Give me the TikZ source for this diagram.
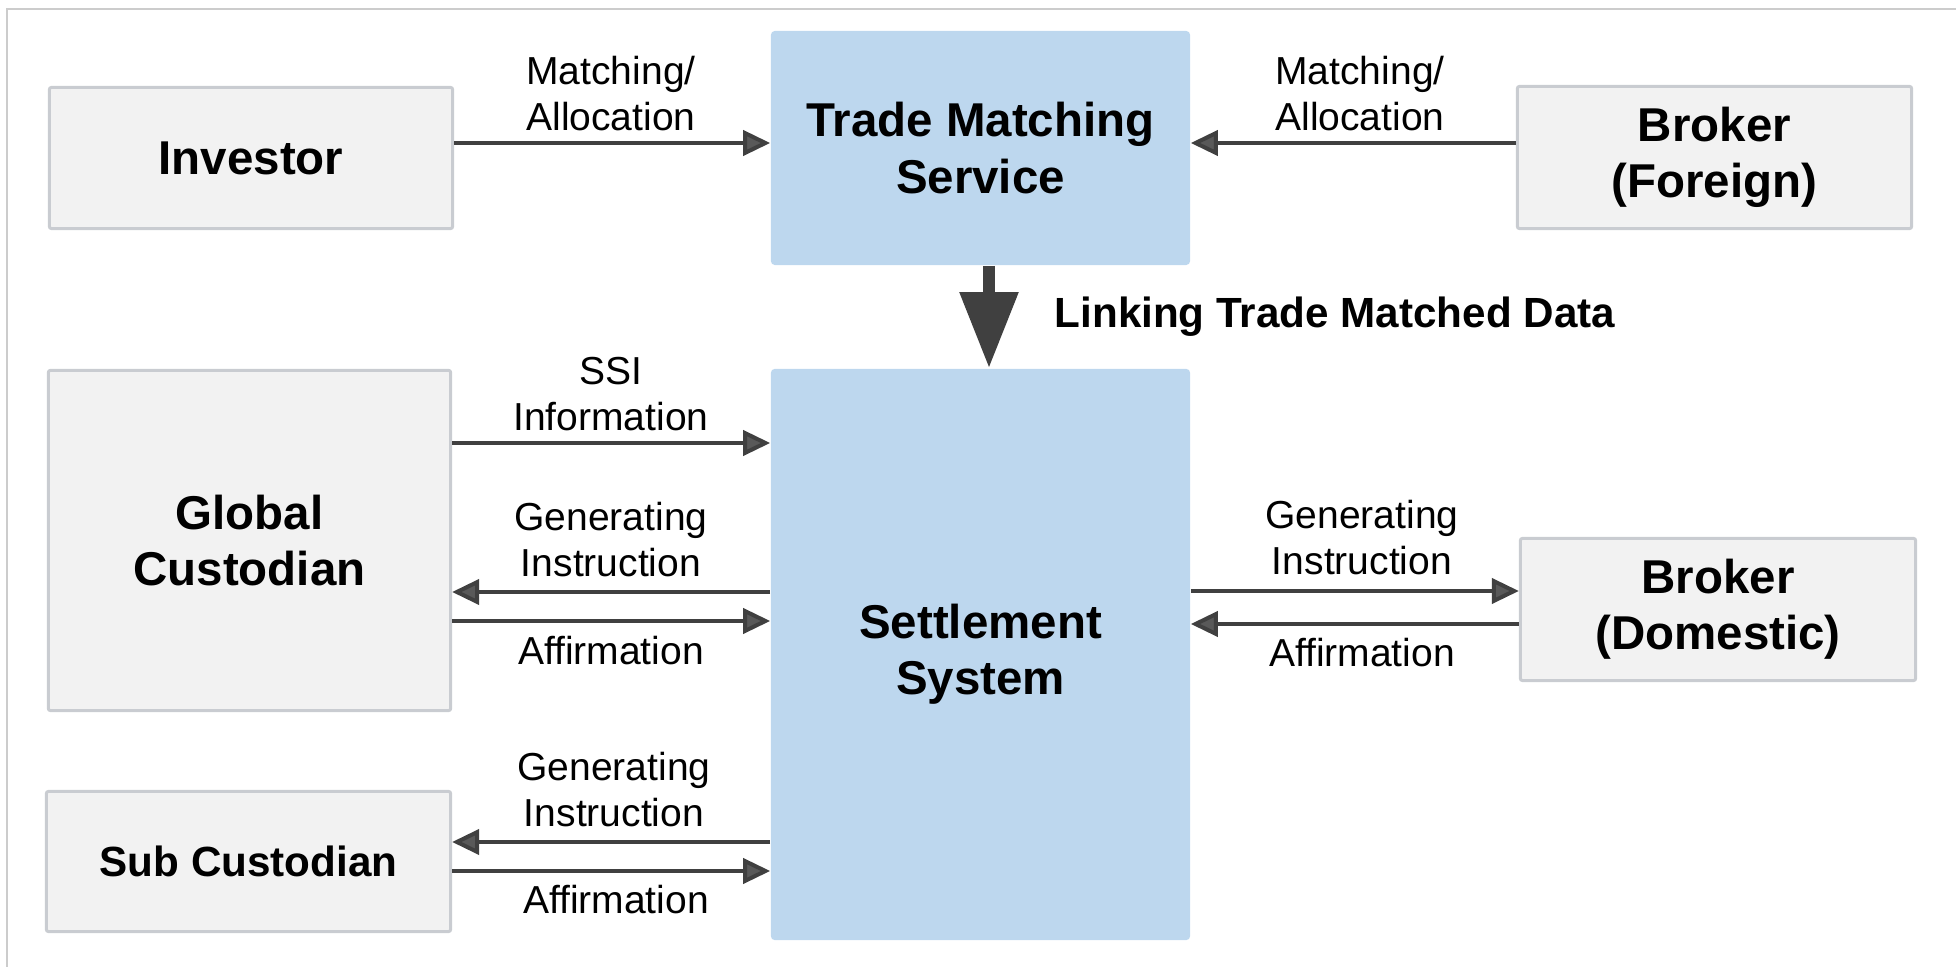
\documentclass[tikz,border=0pt]{standalone}
\usepackage{fontspec}
\setmainfont{Liberation Sans}
\usetikzlibrary{arrows.meta}
\definecolor{boxgray}{HTML}{F2F2F2}
\definecolor{boxline}{HTML}{C9CCD1}
\definecolor{boxblue}{HTML}{BDD7EE}
\definecolor{arrline}{HTML}{404040}
\definecolor{tipfill}{HTML}{595959}
\definecolor{framegray}{HTML}{CCCCCC}
\tikzset{
  party/.style={draw=boxline, fill=boxgray, line width=0.03cm, rounded corners=0.02cm,
    align=center, inner sep=0, font=\fontsize{13.5}{16}\selectfont\bfseries},
  hub/.style={fill=boxblue, rounded corners=0.04cm, align=center, inner sep=0,
    font=\fontsize{13.5}{16}\selectfont\bfseries},
  flow/.style={draw=arrline, line width=0.04cm,
    -{Triangle[length=0.27cm,width=0.25cm,fill=tipfill]}},
  lbl/.style={font=\fontsize{11.1}{13.2}\selectfont, align=center, inner sep=0, anchor=south}
}
\begin{document}
\begin{tikzpicture}[x=0.01cm,y=-0.01cm]
\useasboundingbox (0,0) rectangle (1956,967);
% frame
\draw[framegray, line width=0.025cm] (7,967) -- (7,9) -- (1956,9);
% boxes
\node[party, minimum width=4.03cm, minimum height=1.41cm] (inv) at (251,158) {Investor};
\node[hub, minimum width=4.19cm, minimum height=2.34cm] (tms) at (980.5,148) {Trade Matching\\Service};
\node[party, minimum width=3.94cm, minimum height=1.42cm] (bf) at (1714.5,157.5) {Broker\\(Foreign)};
\node[hub, minimum width=4.19cm, minimum height=5.71cm] (ss) at (980.5,654.5) {Settlement\\System};
\node[party, minimum width=4.02cm, minimum height=3.40cm] (gc) at (249.5,540.5) {Global\\Custodian};
\node[party, minimum width=3.95cm, minimum height=1.42cm] (bd) at (1718,609.5) {Broker\\(Domestic)};
\node[party, minimum width=4.04cm, minimum height=1.40cm,
  font=\fontsize{12}{14}\selectfont\bfseries] (sc) at (248.5,861.5) {Sub Custodian};
% big arrow
\draw[arrline, line width=0.12cm, -{Triangle[length=0.76cm,width=0.56cm]}]
  (tms.south -| 989,0) -- (ss.north -| 989,0);
\node[anchor=base west, inner sep=0, font=\fontsize{12}{14}\selectfont\bfseries]
  (link) at (1054,328) {Linking Trade Matched Data};
% top row
\draw[flow] (inv.east |- 0,143) -- (tms.west |- 0,143);
\draw[flow] (bf.west |- 0,143) -- (tms.east |- 0,143);
\node[lbl] (l1) at (611,132) {Matching/\\Allocation};
\node[lbl] (l2) at (1360,132) {Matching/\\Allocation};
% global custodian
\draw[flow] (gc.east |- 0,443) -- (ss.west |- 0,443);
\node[lbl] (l3) at (611,432) {SSI\\Information};
\draw[flow] (ss.west |- 0,592) -- (gc.east |- 0,592);
\draw[flow] (gc.east |- 0,621) -- (ss.west |- 0,621);
\node[lbl] (l4) at (611,578) {Generating\\Instruction};
\node[lbl] (l5) at (611,666) {Affirmation};
% broker domestic
\draw[flow] (ss.east |- 0,591) -- (bd.west |- 0,591);
\draw[flow] (bd.west |- 0,624) -- (ss.east |- 0,624);
\node[lbl] (l6) at (1362,576) {Generating\\Instruction};
\node[lbl] (l7) at (1362,668) {Affirmation};
% sub custodian
\draw[flow] (ss.west |- 0,842) -- (sc.east |- 0,842);
\draw[flow] (sc.east |- 0,871) -- (ss.west |- 0,871);
\node[lbl] (l8) at (614,828) {Generating\\Instruction};
\node[lbl] (l9) at (616,915) {Affirmation};
\end{tikzpicture}
\end{document}
